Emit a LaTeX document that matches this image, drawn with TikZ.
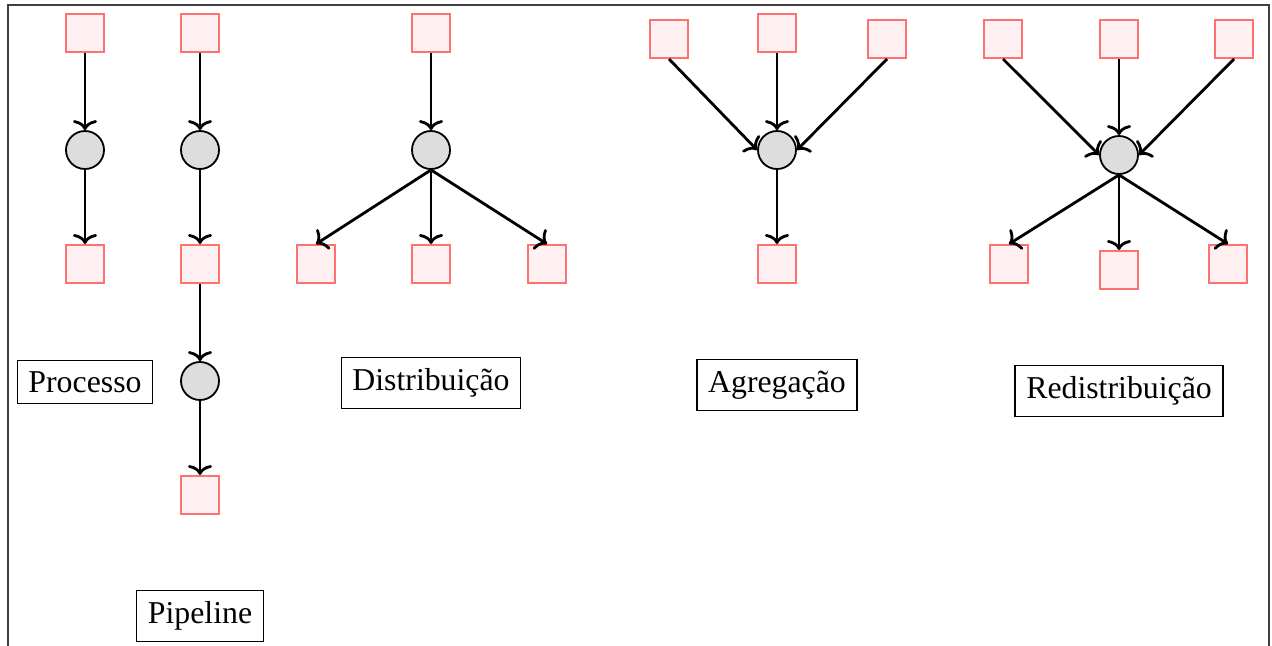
\documentclass[tikz,border=0pt]{standalone}
\usepackage{fontspec}
\setmainfont{Liberation Serif}
\usetikzlibrary{arrows.meta}
\definecolor{taskred}{RGB}{255,112,112}
\definecolor{taskfill}{RGB}{255,241,241}
\definecolor{procgray}{RGB}{221,221,221}
\begin{document}
\begin{tikzpicture}[x=0.5pt,y=-0.5pt,
  task/.style={draw=taskred,fill=taskfill,line width=1pt,minimum size=19pt,inner sep=0pt},
  proc/.style={circle,draw,fill=procgray,line width=0.9pt,minimum size=19pt,inner sep=0pt},
  flow/.style={-{To[length=5pt,width=12pt]},line width=1.4pt},
  tag/.style={draw,line width=0.6pt,inner sep=5.6pt,font=\fontsize{15.9}{19}\selectfont}]
\useasboundingbox (0,0) rectangle (1272,645);
\clip (0,0) rectangle (1272,645);
\draw[line width=1.1pt,black!75] (8,5) rectangle (1269,700);

% Processo
\node[task] (pa) at (85,33) {};
\node[proc] (pb) at (85,150) {};
\node[task] (pc) at (85,264) {};
\draw[flow] (pa) -- (pb);
\draw[flow] (pb) -- (pc);
\node[tag] (lproc) at (85,382) {Processo};

% Pipeline
\foreach \n/\y in {1/33,2/264,3/495}
  \node[task] (t\n) at (200,\y) {};
\foreach \n/\y in {1/150,2/381}
  \node[proc] (q\n) at (200,\y) {};
\draw[flow] (t1) -- (q1);
\draw[flow] (q1) -- (t2);
\draw[flow] (t2) -- (q2);
\draw[flow] (q2) -- (t3);
\node[tag] (lpipe) at (200,616) {Pipeline};

% Distribuição
\node[task] (din) at (431,33) {};
\node[proc] (dist) at (431,150) {};
\draw[flow] (din) -- (dist);
\foreach \n/\x in {1/316,2/431,3/547} {
  \node[task] (dout\n) at (\x,264) {};
  \draw[flow] (dist.south) -- (dout\n.north);
}
\node[tag] (ldist) at (431,383) {Distribuição};

% Agregação
\node[task] (ain1) at (669,39) {};
\node[task] (ain2) at (777,33) {};
\node[task] (ain3) at (887,39) {};
\node[proc] (agg) at (777,150) {};
\node[task] (aout) at (777,264) {};
\draw[flow] (ain1.south) -- (agg.west);
\draw[flow] (ain2) -- (agg);
\draw[flow] (ain3.south) -- (agg.east);
\draw[flow] (agg) -- (aout);
\node[tag] (lagg) at (777,385) {Agregação};

% Redistribuição
\foreach \n/\x in {1/1003,2/1119,3/1234}
  \node[task] (rin\n) at (\x,39) {};
\node[proc] (redist) at (1119,155) {};
\draw[flow] (rin1.south) -- (redist.west);
\draw[flow] (rin2) -- (redist);
\draw[flow] (rin3.south) -- (redist.east);
\foreach \n/\x/\y in {1/1009/264,2/1119/270,3/1228/264} {
  \node[task] (rout\n) at (\x,\y) {};
  \draw[flow] (redist.south) -- (rout\n.north);
}
\node[tag] (lredist) at (1119,391) {Redistribuição};
\end{tikzpicture}
\end{document}
